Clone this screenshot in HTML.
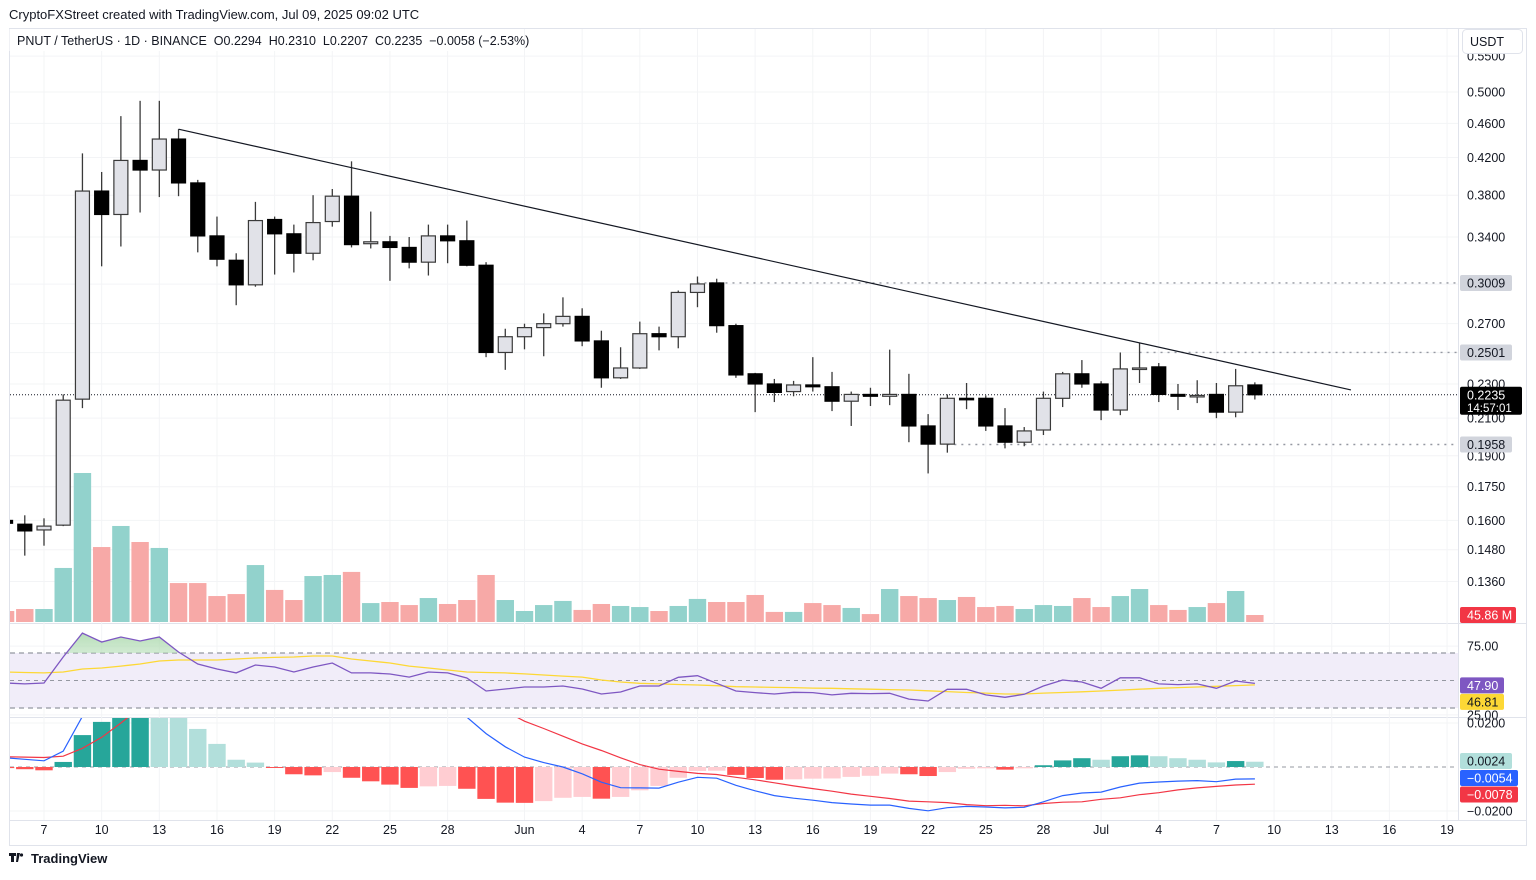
<!DOCTYPE html>
<html><head><meta charset="utf-8">
<style>
html,body{margin:0;padding:0;background:#fff;}
body{width:1536px;height:875px;overflow:hidden;font-family:"Liberation Sans",Arial,sans-serif;}
svg text{font-family:"Liberation Sans",Arial,sans-serif;}
</style></head>
<body>
<svg id="chart" width="1536" height="875" viewBox="0 0 1536 875" xmlns="http://www.w3.org/2000/svg">
<defs>
<clipPath id="cMain"><rect x="10" y="29" width="1448" height="594"/></clipPath>
<clipPath id="cRsi"><rect x="10" y="624" width="1448" height="93"/></clipPath>
<clipPath id="cRsiOB"><rect x="10" y="624" width="1448" height="29"/></clipPath>
<clipPath id="cMacd"><rect x="10" y="718" width="1448" height="102"/></clipPath>
<linearGradient id="gOB" x1="0" y1="0" x2="0" y2="1"><stop offset="0" stop-color="#a5d6a7" stop-opacity="0.8"/><stop offset="1" stop-color="#e8f5e9" stop-opacity="0.3"/></linearGradient>
</defs>
<text x="9" y="19" font-size="13" fill="#131722">CryptoFXStreet created with TradingView.com, Jul 09, 2025 09:02 UTC</text>
<rect x="9.5" y="28.5" width="1517" height="817" fill="none" stroke="#e0e3eb"/>
<line x1="1458.5" y1="29" x2="1458.5" y2="820" stroke="#e0e3eb"/>
<line x1="10" y1="623.5" x2="1526" y2="623.5" stroke="#e0e3eb"/>
<line x1="10" y1="717.5" x2="1526" y2="717.5" stroke="#e0e3eb"/>
<line x1="10" y1="820.5" x2="1526" y2="820.5" stroke="#e0e3eb"/>
<g id="grid"></g>
<g id="vol" clip-path="url(#cMain)"></g>
<g id="main" clip-path="url(#cMain)"></g>
<g id="rsi"></g>
<g id="macd" clip-path="url(#cMacd)"></g>
<g id="axes"></g>
<rect x="9.5" y="29" width="510" height="22" fill="#fff"/>
<text x="17" y="45" font-size="12.5" fill="#131722" style="white-space:pre" xml:space="preserve">PNUT / TetherUS · 1D · BINANCE  O0.2294  H0.2310  L0.2207  C0.2235  −0.0058 (−2.53%)</text>
<rect x="1462.5" y="29.5" width="60" height="24" rx="4" fill="#fff" stroke="#e0e3eb"/>
<text x="1470" y="46" font-size="12.5" fill="#131722">USDT</text>
<g>
<path d="M9 853h7v3h-2v6h-3v-6h-2z M17 853h3l-2 9h-2z" fill="#131722"/>
<circle cx="21.5" cy="855" r="1.6" fill="#131722"/>
<text x="31" y="863" font-size="13" font-weight="bold" fill="#131722">TradingView</text>
</g>
</svg>
<script>
// ---- data (May 5 .. Jul 9, 2025, daily) ----
const open = [0.160,0.1584,0.156,0.158,0.2209,0.3842,0.361,0.4168,0.4063,0.4412,0.3926,0.341,0.3196,0.2994,0.3562,0.3429,0.3256,0.3543,0.379,0.334,0.3357,0.3307,0.318,0.341,0.3366,0.3154,0.2501,
0.2608,0.2672,0.27,0.2753,0.2579,0.2338,0.24,0.2629,0.2608,0.2934,0.3009,0.2686,0.2363,0.23,0.2254,0.2294,0.2283,0.2197,0.2237,0.2226,0.2237,0.2057,0.196,0.2214,0.2214,0.2057,0.197,0.2035,0.2214,0.2363,
0.23,0.2146,0.2394,0.2407,0.2237,0.2226,0.2237,0.2134,0.2294];
const high = [0.1609,0.1622,0.1609,0.2237,0.4247,0.4042,0.469,0.4884,0.4884,0.4529,0.3958,0.359,0.3256,0.3733,0.359,0.3514,0.38,0.3863,0.4158,0.3638,0.341,0.34,0.3514,0.3514,0.3552,0.318,0.2664,
0.27,0.2775,0.2896,0.2813,0.265,0.2536,0.2715,0.2679,0.2949,0.3061,0.3043,0.27,0.2369,0.2331,0.2319,0.247,0.2375,0.2254,0.2277,0.252,0.2363,0.2123,0.2237,0.2306,0.2231,0.2157,0.2051,0.2254,0.2375,0.2451,
0.2317,0.2501,0.2565,0.2432,0.23,0.2323,0.2306,0.2394,0.231];
const low = [0.158,0.1457,0.1496,0.1576,0.2157,0.3145,0.3315,0.3629,0.3781,0.379,0.3264,0.3145,0.2836,0.2979,0.3077,0.3094,0.3196,0.3495,0.3307,0.3298,0.3026,0.3128,0.3069,0.3171,0.3145,0.247,0.2388,
0.2522,0.2476,0.2679,0.2543,0.2277,0.2331,0.2394,0.2515,0.2529,0.2821,0.2636,0.2338,0.2134,0.2192,0.2226,0.2254,0.214,0.2057,0.2169,0.2174,0.197,0.1813,0.1916,0.2151,0.203,0.1938,0.1949,0.2008,0.2163,0.2277,
0.2089,0.2117,0.2306,0.2192,0.2146,0.2186,0.21,0.2105,0.2207];
const close = [0.1588,0.1556,0.1576,0.2203,0.3842,0.361,0.4168,0.4063,0.4412,0.3926,0.341,0.3205,0.2994,0.3552,0.3429,0.3256,0.3533,0.379,0.3332,0.3357,0.3307,0.318,0.341,0.3366,0.3154,0.2501,0.2608,
0.2672,0.27,0.2753,0.2579,0.2338,0.24,0.2629,0.2608,0.2934,0.3001,0.2686,0.2356,0.23,0.2249,0.2294,0.2283,0.2197,0.2237,0.2226,0.2237,0.2057,0.196,0.2214,0.2209,0.2057,0.197,0.203,0.2214,0.2363,0.23,
0.2146,0.2394,0.24,0.2237,0.2226,0.2231,0.2134,0.2289,0.2235];
const volumeM = [72,85,85,354,976,491,629,524,485,255,255,170,183,373,210,144,301,308,328,124,131,111,157,118,144,308,144,
72,111,138,79,118,105,98,72,105,151,131,131,177,66,66,124,111,92,52,216,170,157,144,164,98,105,85,111,105,157,
98,170,216,111,79,98,124,203,45.86];
const rsi = [48.2,47.5,48.2,67.1,84.5,78,81.6,78.7,81.6,70.7,62,58.4,55.5,61.3,59.8,56.2,59.8,62.7,55.5,55.5,54.7,52.5,56.2,55.5,51.8,42.4,43.8,
45.3,45.3,46,43.8,40.2,41.6,46,46,52.3,53.5,48,42.4,41.2,40.2,41.4,41.2,39.5,40.7,40.5,40.7,36.5,35.1,43.6,43.6,39.5,37.8,40,46,50.4,48.9,
44.3,52,52,47.5,47,47.5,44.3,49.6,47.9];
const rsiMA = [56.2,55.8,55.5,56.2,58.4,59.1,60.5,62,64.2,64.9,64.9,64.9,65.6,66.4,66.8,67.1,67.8,67.8,65.6,64.2,62.7,60.5,59.1,57.6,56.2,55.8,55.5,
54.8,54,53.2,52.5,50.4,48.9,48,47.5,47.1,46.7,46.2,45.5,45.3,45,44.8,44.5,44.3,44,43.7,43.4,43.1,42.5,41.9,41.3,40.8,40.2,40.2,40.8,41.3,41.8,
42.4,43,43.7,44.3,44.8,45.3,45.8,46.3,46.81];
// MACD values in thousandths (x 0.001)
const macdLine = [4.2,3.5,2.8,7.2,23,34,47,56.5,61.5,61.5,58.3,53,46.3,45,42.2,38.5,37.2,38,34.4,31.5,28.5,25.5,25.2,24.4,22.7,15.2,9.2,
4.5,2.0,0,-3.1,-6.9,-9.4,-9.5,-9.6,-6.9,-4.7,-5.1,-8.3,-10.8,-13,-14.2,-15.1,-16.2,-16.8,-17.3,-17.3,-18.8,-19.9,-18.5,-17.9,-18.2,-18.6,-18.3,-15.8,-13,-11.8,
-11.4,-9.1,-7.3,-6.8,-6.4,-6.2,-6.7,-5.5,-5.4];
const signalLine = [4.7,4.5,4.3,4.9,8.5,13.5,20,27,33.5,38,41,42.5,43,43,42.5,41.8,41,40.3,39.3,38,36.5,35,34,33,32.6,29.7,25.4,
20.8,17.5,14,10.5,7.5,4.2,1.1,-1.0,-2.0,-2.9,-3.4,-4.7,-5.8,-7.2,-8.6,-9.8,-11,-12.3,-13.3,-14.3,-15.5,-15.8,-16.2,-17.1,-17.6,-17.4,-17.7,-16.6,-16,-15.8,
-14.7,-14,-12.6,-11.7,-10.4,-9.5,-8.8,-8.2,-7.8];
const histogram = [-0.5,-1.0,-1.5,2.3,14.5,20.5,27,29.5,28,23.5,17.3,10.5,3.3,2.0,-0.3,-3.3,-3.8,-2.3,-4.9,-6.5,-8.0,-9.5,-8.8,-8.6,-9.9,-14.5,-16.2,
-16.3,-15.5,-14.0,-13.6,-14.4,-13.6,-10.6,-8.6,-4.9,-1.8,-1.7,-3.6,-5.0,-5.8,-5.6,-5.3,-5.2,-4.5,-4.0,-3.0,-3.3,-4.1,-2.3,-0.8,-0.6,-1.2,-0.6,0.8,3.0,4.0,
3.3,4.9,5.3,4.9,4.0,3.3,2.1,2.7,2.4];
const priceTicks = [0.55,0.5,0.46,0.42,0.38,0.34,0.30,0.27,0.25,0.23,0.21,0.19,0.175,0.16,0.148,0.136];
const timeTickIdx = [2,5,8,11,14,17,20,23,27,30,33,36,39,42,45,48,51,54,57,60,63,66,69,72,75];
const timeTickLabels = ["7","10","13","16","19","22","25","28","Jun","4","7","10","13","16","19","22","25","28","Jul","4","7","10","13","16","19"];
const levelPrices = [0.3009,0.2501,0.1958];
const levelStartIdx = [36,59,49];
const trendIdx = [9,70];
const trendPrice = [0.4529,0.2264];

// ---- scales ----
const X = i => 44 + (i - 2) * 19.22;
const Y = p => 92 + Math.log(0.5 / p) * 376;
const VY = v => 622 - v / 6.55;
const RY = r => 680.5 - (r - 50) * 1.375;
const MY = m => 767 - m * 2.2;
const NS = "http://www.w3.org/2000/svg";
function mk(tag, attrs, parent, text) {
  const e = document.createElementNS(NS, tag);
  for (const k in attrs) e.setAttribute(k, attrs[k]);
  if (text !== undefined) e.textContent = text;
  parent.appendChild(e);
  return e;
}
const grid = document.getElementById('grid');
const axes = document.getElementById('axes');
const vol = document.getElementById('vol');
const main = document.getElementById('main');
const rsiG = document.getElementById('rsi');
const macdG = document.getElementById('macd');

// grid
priceTicks.forEach(p => {
  const l = mk('line', {x1: 10, x2: 1458, y1: Y(p), y2: Y(p), stroke: '#f3f4f6'}, grid);
  
  
});
timeTickIdx.forEach(i => {
  const l = mk('line', {x1: X(i), x2: X(i), y1: 29, y2: 820, stroke: '#f3f4f6'}, grid);
  
  
});
[75, 25].forEach(r => {
  mk('line', {x1: 10, x2: 1458, y1: RY(r), y2: RY(r), stroke: '#f3f4f6'}, grid);
});
[20, -20].forEach(m => mk('line', {x1: 10, x2: 1458, y1: MY(m), y2: MY(m), stroke: '#f3f4f6'}, grid));

// volume
volumeM.forEach((v, i) => {
  const up = close[i] >= open[i];
  const r = mk('rect', {x: X(i) - 8.7, y: VY(v), width: 17.4, height: 622 - VY(v), fill: up ? '#92d2cc' : '#f7a9a7'}, vol);
  
  
});

// current price line
const cp = mk('line', {x1: 10, x2: 1458, y1: Y(close[close.length - 1]), y2: Y(close[close.length - 1]), stroke: '#131722', 'stroke-dasharray': '1 2'}, main);


// horizontal levels
levelPrices.forEach((p, k) => {
  const l = mk('line', {x1: X(levelStartIdx[k]), x2: 1458, y1: Y(p), y2: Y(p), stroke: '#9598a1', 'stroke-width': 1.4, 'stroke-dasharray': '2 5'}, main);
  
  
});
// candles
open.forEach((o, i) => {
  const c = close[i], up = c >= o, x = X(i);
  const g = mk('g', {}, main);
  
  
  mk('line', {x1: x, x2: x, y1: Y(high[i]), y2: Y(low[i]), stroke: '#3a3a3a', 'stroke-width': 1.3}, g);
  const top = Y(Math.max(o, c)), bot = Y(Math.min(o, c));
  mk('rect', {x: x - 7, y: top, width: 14, height: Math.max(1.5, bot - top), fill: up ? '#e1e2e8' : '#000', stroke: up ? '#3a3a3a' : '#000', 'stroke-width': 1.2}, g);
});
// trendline
const tl = mk('line', {x1: X(trendIdx[0]), y1: Y(trendPrice[0]), x2: X(trendIdx[1]), y2: Y(trendPrice[1]), stroke: '#131722', 'stroke-width': 1.2}, main);



// RSI pane
const band = mk('rect', {x: 10, y: RY(70), width: 1448, height: RY(30) - RY(70), fill: '#f1edf9'}, rsiG);


[70, 50, 30].forEach(r => {
  const l = mk('line', {x1: 10, x2: 1458, y1: RY(r), y2: RY(r), stroke: '#9598a1', 'stroke-dasharray': r === 50 ? '4 4' : '5 4', 'stroke-width': r === 50 ? 0.9 : 1.2}, rsiG);
  
  
});
const rsiPts = rsi.map((r, i) => X(i).toFixed(1) + ',' + RY(r).toFixed(1));
const ob = mk('polygon', {points: X(0) + ',' + RY(70) + ' ' + rsiPts.join(' ') + ' ' + X(rsi.length - 1) + ',' + RY(70), fill: 'url(#gOB)', 'clip-path': 'url(#cRsiOB)'}, rsiG);


const rg = mk('g', {'clip-path': 'url(#cRsi)'}, rsiG);
const ma = mk('polyline', {points: rsiMA.map((r, i) => X(i).toFixed(1) + ',' + RY(r).toFixed(1)).join(' '), fill: 'none', stroke: '#fdd835', 'stroke-width': 1.3}, rg);


const rl = mk('polyline', {points: rsiPts.join(' '), fill: 'none', stroke: '#7e57c2', 'stroke-width': 1.3}, rg);



// MACD pane
const z = mk('line', {x1: 10, x2: 1458, y1: MY(0), y2: MY(0), stroke: '#9598a1', 'stroke-dasharray': '4 4', 'stroke-width': 0.9}, macdG);


histogram.forEach((h, i) => {
  const prev = i > 0 ? histogram[i - 1] : h;
  let col;
  if (h >= 0) col = h >= prev ? '#26a69a' : '#b2dfdb';
  else col = h <= prev ? '#ff5252' : '#ffcdd2';
  const y0 = MY(0), y1 = MY(h);
  const r = mk('rect', {x: X(i) - 8.7, y: Math.min(y0, y1), width: 17.4, height: Math.max(1, Math.abs(y1 - y0)), fill: col}, macdG);
  
  
});
const sl = mk('polyline', {points: signalLine.map((m, i) => X(i).toFixed(1) + ',' + MY(m).toFixed(1)).join(' '), fill: 'none', stroke: '#f23645', 'stroke-width': 1.2}, macdG);


const ml = mk('polyline', {points: macdLine.map((m, i) => X(i).toFixed(1) + ',' + MY(m).toFixed(1)).join(' '), fill: 'none', stroke: '#2962ff', 'stroke-width': 1.2}, macdG);



// axis labels
const hidden = [0.30, 0.25];
priceTicks.forEach(p => {
  if (hidden.includes(p)) return;
  const t = mk('text', {x: 1467, y: Y(p) + 4.5, 'font-size': 12.5, fill: '#131722'}, axes, p.toFixed(4));
  
  
});
timeTickIdx.forEach((i, k) => {
  const t = mk('text', {x: X(i), y: 834, 'font-size': 12.5, fill: '#131722', 'text-anchor': 'middle'}, axes, timeTickLabels[k]);
  
  
});
function badge(y, txt, bg, fg, name, w, h) {
  const g = mk('g', {}, axes);
  
  
  mk('rect', {x: 1460, y: y - (h || 16) / 2, width: w || 52, height: h || 16, rx: 2, fill: bg}, g);
  mk('text', {x: 1467, y: y + 4.5, 'font-size': 12.5, fill: fg}, g, txt);
  return g;
}
levelPrices.forEach(p => badge(Y(p), p.toFixed(4), '#d1d4dc', '#131722', 'level-price-badge'));
const last = close[close.length - 1];
const lb = mk('g', {}, axes);


mk('rect', {x: 1460, y: Y(last) - 8, width: 62, height: 28, rx: 2, fill: '#000'}, lb);
mk('text', {x: 1467, y: Y(last) + 4.5, 'font-size': 12.5, fill: '#fff'}, lb, last.toFixed(4));
mk('text', {x: 1467, y: Y(last) + 17, 'font-size': 11.5, fill: '#fff'}, lb, '14:57:01');
badge(VY(volumeM[volumeM.length - 1]), volumeM[volumeM.length - 1].toFixed(2) + ' M', '#f23645', '#fff', 'volume-badge', 56);
[[75, '75.00'], [25, '25.00']].forEach(([r, s]) => {
  const t = mk('text', {x: 1467, y: RY(r) + 4.5, 'font-size': 12.5, fill: '#131722'}, axes, s);
  
  
});
[[20, '0.0200'], [-20, '−0.0200']].forEach(([m, s]) => {
  const t = mk('text', {x: 1467, y: MY(m) + 4.5, 'font-size': 12.5, fill: '#131722'}, axes, s);
  
  
});
badge(RY(rsi[rsi.length - 1]) + 2, rsi[rsi.length - 1].toFixed(2), '#7e57c2', '#fff', 'rsi-value-badge', 44);
badge(RY(rsiMA[rsiMA.length - 1]) + 17, rsiMA[rsiMA.length - 1].toFixed(2), '#fdd835', '#131722', 'rsi-ma-badge', 44);
const fmt = m => (m < 0 ? '−' : '') + Math.abs(m / 1000).toFixed(4);
badge(761, fmt(histogram[histogram.length - 1]), '#b2dfdb', '#131722', 'macd-hist-badge', 52);
badge(778, fmt(macdLine[macdLine.length - 1]), '#2962ff', '#fff', 'macd-value-badge', 58);
badge(794.5, fmt(signalLine[signalLine.length - 1]), '#f23645', '#fff', 'macd-signal-badge', 58);
</script>
</body></html>
